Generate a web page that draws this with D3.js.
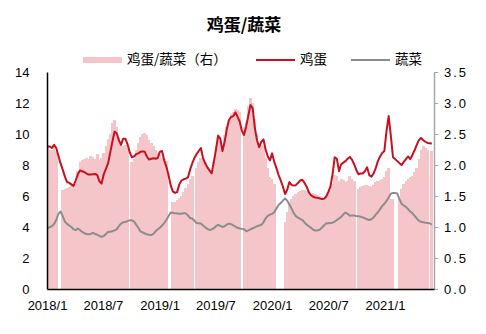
<!DOCTYPE html>
<html>
<head>
<meta charset="utf-8">
<script src="https://cdn.jsdelivr.net/npm/d3@7/dist/d3.min.js"></script>
<style>
  body { margin: 0; background: #fff; }
  svg { display: block; }
</style>
</head>
<body>
<svg id="chart" width="486" height="334"></svg>
<script>
// Weekly series, first observation in the week of 2018-01-03
const weekStart = new Date(2018, 0, 3);

// 鸡蛋 price (left axis)
const egg = [
  9.2, 9.2, 9.1, 9.3, 9.1, 8.6, 8.1, 7.7, 7.25, 6.9,
  6.85, 6.75, 6.65, 7.0, 7.4, 7.65, 7.6, 7.55, 7.45, 7.38,
  7.38, 7.4, 7.42, 7.35, 6.95, 6.8, 7.4, 7.75, 8.1, 8.8,
  9.5, 10.15, 10.05, 9.6, 9.3, 9.7, 9.7, 9.35, 8.85, 8.5,
  8.55, 8.7, 8.75, 8.85, 8.88, 8.85, 8.55, 8.35, 8.4, 8.43,
  8.4, 8.45, 8.85, 8.9, 8.3, 7.9, 7.35, 6.7, 6.3, 6.2,
  6.25, 6.75, 7.0, 7.08, 7.12, 7.2, 7.7, 8.1, 8.45, 8.7,
  8.9, 9.1, 8.45, 8.1, 7.85, 7.65, 7.46, 8.2, 9.0, 9.9,
  9.7, 8.9, 9.5, 10.3, 10.9, 11.1, 11.15, 11.4, 11.1, 10.8,
  10.2, 9.94, 10.5, 11.2, 11.87, 11.66, 10.4, 9.6, 9.15, 9.5,
  9.65, 9.0, 8.55, 8.3, 8.75, 8.2, 7.8, 7.35, 7.0, 6.6,
  6.13, 6.4, 6.9, 6.72, 6.67, 6.7, 6.85, 7.0, 7.05, 6.85,
  6.6, 6.25, 6.05, 5.95, 5.9, 5.88, 5.85, 5.8, 5.82, 5.95,
  6.25, 6.6, 7.4, 8.5, 8.4, 7.6, 8.05, 8.15, 8.25, 8.4,
  8.52, 8.35, 8.05, 7.68, 7.4, 7.45, 7.45, 7.6, 7.85, 7.35,
  7.25, 7.45, 7.8, 8.25, 8.55, 8.78, 8.9, 10.2, 11.16, 9.9,
  8.5, 8.38, 8.25, 8.12, 8.0, 8.2, 8.38, 8.55, 8.38, 8.65,
  8.95, 9.3, 9.6, 9.75, 9.6, 9.5, 9.42, 9.4, 9.38
];

// 蔬菜 price (left axis)
const veg = [
  3.9, 4.0, 4.05, 4.2, 4.45, 4.85, 5.0, 4.7, 4.35, 4.2,
  4.1, 4.0, 3.85, 3.8, 3.9, 3.8, 3.68, 3.6, 3.55, 3.53,
  3.55, 3.62, 3.55, 3.5, 3.42, 3.36, 3.42, 3.55, 3.68, 3.7,
  3.72, 3.78, 3.85, 4.05, 4.22, 4.3, 4.32, 4.38, 4.43, 4.43,
  4.36, 4.15, 3.95, 3.72, 3.65, 3.58, 3.53, 3.5, 3.48, 3.55,
  3.72, 3.85, 3.95, 4.1, 4.25, 4.45, 4.7, 4.93, 4.92, 4.88,
  4.87, 4.85, 4.86, 4.88, 4.88, 4.75, 4.58, 4.55, 4.4, 4.26,
  4.24, 4.22, 4.1, 3.98, 3.88, 3.81, 3.84, 3.92, 4.05, 4.13,
  4.08, 4.0, 4.05, 4.15, 4.22, 4.18, 4.1, 4.03, 3.95, 3.9,
  3.88, 3.85, 3.72, 3.78, 3.85, 3.92, 3.98, 4.05, 4.1, 4.13,
  4.3, 4.55, 4.72, 4.8, 4.85, 4.95, 5.2, 5.42, 5.55, 5.7,
  5.85, 5.7, 5.45, 5.2, 4.9, 4.7, 4.6, 4.52, 4.45, 4.3,
  4.15, 4.05, 3.95, 3.82, 3.77, 3.78, 3.82, 3.95, 4.1, 4.22,
  4.24, 4.26, 4.28, 4.35, 4.45, 4.55, 4.65, 4.82, 4.93, 4.85,
  4.72, 4.75, 4.74, 4.71, 4.7, 4.66, 4.62, 4.56, 4.5, 4.45,
  4.5, 4.62, 4.8, 4.95, 5.15, 5.35, 5.5, 5.68, 5.9, 6.15,
  6.2, 6.2, 6.15, 5.8, 5.5, 5.38, 5.3, 5.15, 5.0, 4.88,
  4.72, 4.55, 4.4, 4.34, 4.3, 4.28, 4.26, 4.24, 4.15
];

// 鸡蛋/蔬菜 ratio (right axis); null = no observation that week
const ratio = [
  2.3, 2.25, 2.24, 2.3, 2.22, null, null, 1.6, 1.62, 1.63,
  1.65, 1.68, 1.66, 1.7, 1.9, 2.05, 2.08, 2.1, 2.12, 2.1,
  2.15, 2.13, 2.1, 2.18, 2.08, 2.12, 2.2, 2.3, 2.42, 2.5,
  2.68, 2.72, 2.62, 2.45, 2.35, 2.3, 2.32, 2.27, null, 2.05,
  2.1, 2.25, 2.35, 2.45, 2.5, 2.52, 2.48, 2.4, 2.35, 2.3,
  2.25, 2.2, 2.18, 2.12, 2.1, 2.06, null, null, 1.4, 1.41,
  1.43, 1.46, 1.5, 1.56, 1.63, 1.7, 1.77, 1.82, null, 1.95,
  2.05, 2.12, 2.1, 2.05, 1.97, 1.92, 1.88, 2.05, 2.3, 2.45,
  2.38, 2.3, 2.48, 2.62, 2.75, 2.82, 2.85, 2.9, 2.88, 2.85,
  null, 2.62, 2.7, 2.95, 3.08, 3.0, 2.75, 2.5, 2.35, 2.32,
  2.3, 2.12, 1.95, 1.8, 1.78, 1.7, null, null, null, null,
  1.08, 1.25, 1.4, 1.45, 1.5, 1.53, 1.56, 1.58, 1.6, 1.6,
  1.58, 1.56, 1.54, 1.55, 1.53, 1.52, 1.5, 1.48, 1.47, 1.5,
  1.55, 1.6, 1.7, 1.84, 1.82, 1.75, 1.78, 1.76, 1.72, 1.75,
  1.82, 1.78, 1.74, null, 1.62, 1.64, 1.66, 1.67, 1.68, 1.66,
  1.65, 1.68, 1.72, 1.74, 1.76, 1.78, 1.8, 1.9, 1.95, 1.45,
  1.45, null, null, 1.45, 1.62, 1.7, 1.74, 1.78, 1.8, 1.82,
  1.88, 1.95, 2.1, 2.25, 2.3, 2.28, 2.24, null, 2.22
];

const xTickLabels = ["2018/1", "2018/7", "2019/1", "2019/7", "2020/1", "2020/7", "2021/1"];
const leftTicks = [0, 2, 4, 6, 8, 10, 12, 14];
const rightTicks = [0, 0.5, 1, 1.5, 2, 2.5, 3, 3.5];

const C = {
  bar: "#f4c6c9",
  egg: "#c8101e",
  veg: "#8c8c8c",
  axis: "#000",
  axisRight: "#a6a6a6"
};
const numFont = "'Liberation Sans', Arial, sans-serif";
const cjkFont = "'Noto Sans CJK SC', 'Noto Sans', sans-serif";

const plot = { left: 47, right: 434, top: 72, bottom: 289 };

const dates = egg.map((_, i) => d3.timeDay.offset(weekStart, 7 * i));
const parseTick = d3.timeParse("%Y/%m");
const tickDates = xTickLabels.map(s => parseTick(s));

const x = d3.scaleTime()
  .domain([new Date(2018, 0, 1), new Date(2021, 5, 9)])
  .range([plot.left, plot.right]);
const yL = d3.scaleLinear().domain([0, 14]).range([plot.bottom, plot.top]);
const yR = d3.scaleLinear().domain([0, 3.5]).range([plot.bottom, plot.top]);

const svg = d3.select("#chart");
svg.append("rect").attr("width", 486).attr("height", 334).attr("fill", "#fff");

svg.append("defs").append("clipPath").attr("id", "plotClip")
  .append("rect")
  .attr("x", plot.left).attr("y", plot.top - 5)
  .attr("width", plot.right - plot.left).attr("height", plot.bottom - plot.top + 5);

// Ratio columns
const step = x(dates[1]) - x(dates[0]);
const bw = step + 0.6;
svg.append("g").attr("clip-path", "url(#plotClip)")
  .selectAll("rect")
  .data(ratio.map((v, i) => ({ d: dates[i], v })).filter(p => p.v !== null))
  .join("rect")
  .attr("x", p => x(p.d) - bw / 2)
  .attr("width", bw)
  .attr("y", p => yR(p.v))
  .attr("height", p => yR(0) - yR(p.v))
  .attr("fill", C.bar)
  .attr("shape-rendering", "crispEdges");

// Price lines
const line = d3.line().x((v, i) => x(dates[i])).y(v => yL(v));
const lines = svg.append("g").attr("clip-path", "url(#plotClip)");
lines.append("path").datum(veg).attr("d", line)
  .attr("fill", "none").attr("stroke", C.veg).attr("stroke-width", 2)
  .attr("stroke-linejoin", "round");
lines.append("path").datum(egg).attr("d", line)
  .attr("fill", "none").attr("stroke", C.egg).attr("stroke-width", 2)
  .attr("stroke-linejoin", "round");

// Left axis
const gL = svg.append("g").attr("transform", `translate(${plot.left},0)`)
  .call(d3.axisLeft(yL).tickValues(leftTicks).tickSize(0).tickPadding(17.5));
gL.select(".domain").attr("stroke", C.axis).attr("stroke-width", 1.5);
gL.selectAll("text").attr("font-family", numFont).attr("font-size", 13).attr("fill", "#000");

// Right axis
const gR = svg.append("g").attr("transform", `translate(${plot.right},0)`)
  .call(d3.axisRight(yR).tickValues(rightTicks).tickSize(4).tickSizeOuter(0)
    .tickPadding(6).tickFormat(d3.format(".1f")));
gR.select(".domain").attr("stroke", C.axisRight).attr("stroke-width", 1.5);
gR.selectAll(".tick line").attr("stroke", C.axisRight);
gR.selectAll("text").attr("font-family", numFont).attr("font-size", 13)
  .attr("letter-spacing", "2px").attr("fill", "#000");

// Bottom axis
const gB = svg.append("g").attr("transform", `translate(0,${plot.bottom})`)
  .call(d3.axisBottom(x).tickValues(tickDates).tickSize(0).tickPadding(11.5)
    .tickFormat((d, i) => xTickLabels[i]));
gB.select(".domain").attr("stroke", C.axis).attr("stroke-width", 1.5);
gB.selectAll("text").attr("font-family", numFont).attr("font-size", 13).attr("fill", "#000");

// Title
svg.append("text")
  .attr("x", 244).attr("y", 31)
  .attr("text-anchor", "middle")
  .attr("font-family", cjkFont).attr("font-size", 17).attr("font-weight", "bold")
  .text("鸡蛋/蔬菜");

// Legend
const legend = svg.append("g").attr("font-family", cjkFont).attr("font-size", 13.5);
legend.append("rect").attr("x", 83).attr("y", 57).attr("width", 39).attr("height", 6).attr("fill", C.bar);
legend.append("text").attr("x", 127).attr("y", 64).text("鸡蛋/蔬菜（右）");
legend.append("line").attr("x1", 256).attr("x2", 295).attr("y1", 60).attr("y2", 60)
  .attr("stroke", C.egg).attr("stroke-width", 2);
legend.append("text").attr("x", 300).attr("y", 64).text("鸡蛋");
legend.append("line").attr("x1", 351).attr("x2", 390).attr("y1", 60).attr("y2", 60)
  .attr("stroke", C.veg).attr("stroke-width", 2);
legend.append("text").attr("x", 395).attr("y", 64).text("蔬菜");
</script>
</body>
</html>
